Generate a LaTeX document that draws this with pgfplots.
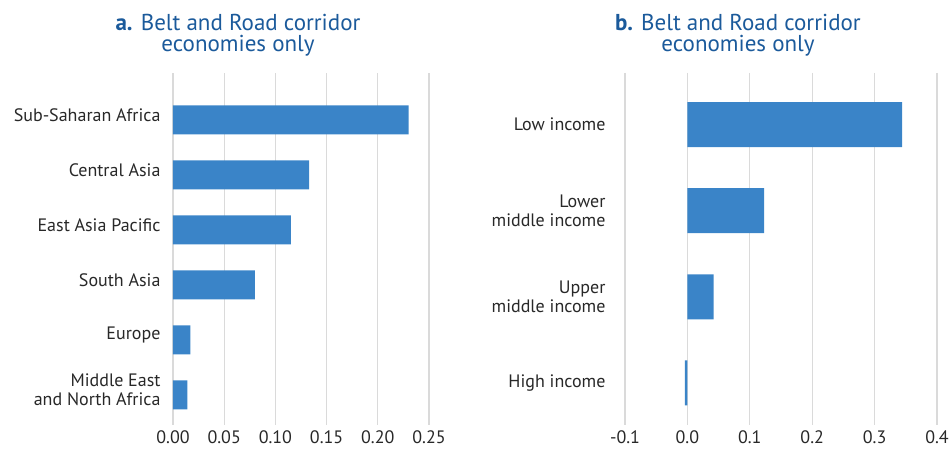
\documentclass[border=0pt]{standalone}
\usepackage{fontspec}
\setmainfont{PT Sans}
\usepackage{pgfplots}
\pgfplotsset{compat=1.18}
\definecolor{barblue}{RGB}{58,132,200}
\definecolor{titleblue}{RGB}{27,90,155}
\definecolor{gridgray}{RGB}{218,218,218}
\definecolor{labgray}{RGB}{40,40,40}
\begin{document}
\begin{tikzpicture}[x=1pt,y=1pt]
\useasboundingbox (0,0) rectangle (951,450);
\pgfplotsset{
  common/.style={
    scale only axis, xbar, y dir=reverse,
    axis line style={draw=none},
    major tick length=0pt,
    xmajorgrids, ymajorgrids=false,
    grid style={gridgray, line width=1.3pt},
    bar shift=0pt,
    tick label style={font=\fontsize{18}{18.5}\selectfont, text=labgray},
    yticklabel style={align=right},
    xticklabel style={yshift=-2pt},
    /pgf/number format/assume math mode=true,
  }
}
% Panel a
\begin{axis}[common,
  at={(173pt,25pt)}, anchor=south west,
  width=256pt, height=352pt,
  xmin=0, xmax=0.25,
  ymin=-0.85, ymax=5.55,
  bar width=29pt,
  xtick={0,0.05,0.1,0.15,0.2,0.25},
  xticklabels={0.00,0.05,0.10,0.15,0.20,0.25},
  ytick={0,1,2,3,4,5},
  yticklabels={Sub-Saharan Africa,Central Asia,East Asia Pacific,South Asia,Europe,{Middle East\\and North Africa}},
  yticklabel style={xshift=-9pt, yshift=5pt},
]
\addplot[fill=barblue, draw=none] coordinates {
  (0.230,0) (0.133,1) (0.115,2) (0.080,3) (0.017,4) (0.014,5)
};
\end{axis}
% Panel b
\begin{axis}[common,
  at={(625pt,25pt)}, anchor=south west,
  width=312pt, height=352pt,
  xmin=-0.1, xmax=0.4,
  ymin=-0.6, ymax=3.49,
  bar width=45pt,
  xtick={-0.1,0,0.1,0.2,0.3,0.4},
  xticklabels={-0.1,0.0,0.1,0.2,0.3,0.4},
  ytick={0,1,2,3},
  yticklabels={Low income,{Lower\\middle income},{Upper\\middle income},High income},
  yticklabel style={xshift=-16pt},
]
\addplot[fill=barblue, draw=none] coordinates {
  (0.344,0) (0.123,1) (0.042,2) (-0.004,3)
};
\end{axis}
% Titles
\node[align=center, text=titleblue, font=\fontsize{23}{21}\selectfont] at (238,415) {\textbf{a.} Belt and Road corridor\\economies only};
\node[align=center, text=titleblue, font=\fontsize{23}{21}\selectfont] at (738,415) {\textbf{b.} Belt and Road corridor\\economies only};
\end{tikzpicture}
\end{document}
